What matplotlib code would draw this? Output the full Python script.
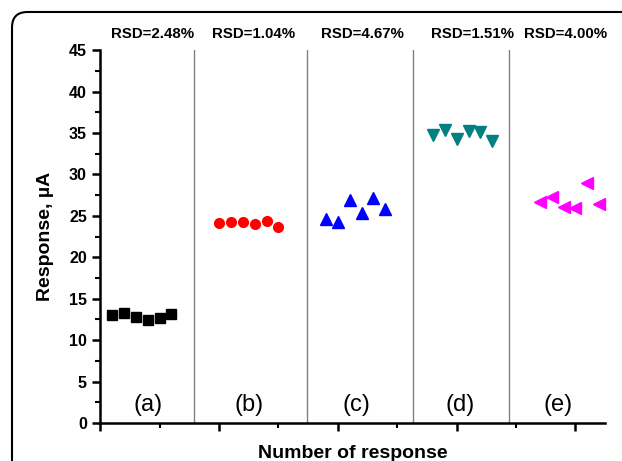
import matplotlib
matplotlib.use("Agg")
import matplotlib.pyplot as plt
from matplotlib.patches import FancyBboxPatch
from matplotlib.ticker import MultipleLocator, NullFormatter

plt.rcParams['font.family'] = ['Liberation Sans', 'DejaVu Sans']

# response values
x_a = [1, 2, 3, 4, 5, 6]
y_a = [13.03, 13.27, 12.79, 12.42, 12.67, 13.19]
x_b = [10, 11, 12, 13, 14, 15]
y_b = [24.09, 24.2, 24.3, 23.97, 24.4, 23.7]
x_c = [19, 20, 21, 22, 23, 24]
y_c = [24.57, 24.25, 26.86, 25.37, 27.18, 25.82]
x_d = [28, 29, 30, 31, 32, 33]
y_d = [34.78, 35.34, 34.26, 35.26, 35.07, 34.05]
x_e = [37, 38, 39, 40, 41, 42]
y_e = [26.66, 27.26, 26.1, 25.97, 28.9, 26.45]

separators = [7.9, 17.4, 26.3, 34.4]
rsd_labels = ['RSD=2.48%', 'RSD=1.04%', 'RSD=4.67%', 'RSD=1.51%', 'RSD=4.00%']
rsd_x = [4.4, 12.9, 22.1, 31.3, 39.2]
group_labels = ['(a)', '(b)', '(c)', '(d)', '(e)']
group_x = [4.0, 12.5, 21.6, 30.25, 38.5]

fig = plt.figure(figsize=(6.22, 4.61), dpi=100)
ax = fig.add_axes([0.161, 0.0824, 0.812, 0.809])

# outer rounded frame (cropped on right and bottom)
frame = FancyBboxPatch((0.0193, -0.2), 1.2, 1.174, boxstyle="round,pad=0,rounding_size=0.025",
                       transform=fig.transFigure, fill=False, edgecolor='black', linewidth=1.5,
                       mutation_aspect=622/461)
fig.patches.append(frame)

ax.plot(x_a, y_a, 's', color='black', markersize=6.5, linestyle='none', clip_on=False)
ax.plot(x_b, y_b, 'o', color='red', markersize=7, linestyle='none', clip_on=False)
ax.plot(x_c, y_c, '^', color='blue', markersize=8, linestyle='none', clip_on=False)
ax.plot(x_d, y_d, 'v', color='#008080', markersize=8, linestyle='none', clip_on=False)
ax.plot(x_e, y_e, '<', color='magenta', markersize=8, linestyle='none', clip_on=False)

for s in separators:
    ax.axvline(s, color='#808080', linewidth=1)

for lbl, xx in zip(rsd_labels, rsd_x):
    ax.text(xx, 46.9, lbl, ha='center', va='center', fontsize=10.8, fontweight='bold', clip_on=False)

for lbl, xx in zip(group_labels, group_x):
    ax.text(xx, 2.2, lbl, ha='center', va='center', fontsize=17)

ax.set_xlim(0, 42.5)
ax.set_ylim(0, 45)
ax.spines['top'].set_visible(False)
ax.spines['right'].set_visible(False)
ax.spines['left'].set_linewidth(1.8)
ax.spines['bottom'].set_linewidth(1.8)

ax.xaxis.set_major_locator(MultipleLocator(10))
ax.xaxis.set_minor_locator(MultipleLocator(5))
ax.xaxis.set_major_formatter(NullFormatter())
ax.yaxis.set_major_locator(MultipleLocator(5))
ax.yaxis.set_minor_locator(MultipleLocator(2.5))
ax.tick_params(axis='both', which='major', direction='out', length=6, width=1.8, labelsize=11.5)
ax.tick_params(axis='both', which='minor', direction='out', length=3.5, width=1.5)
for t in ax.get_yticklabels():
    t.set_fontweight('bold')

ax.set_ylabel('Response, µA', fontsize=14, fontweight='bold', labelpad=11)
ax.set_xlabel('Number of response', fontsize=14, fontweight='bold', labelpad=6)

fig.savefig('out.png', dpi=100)
